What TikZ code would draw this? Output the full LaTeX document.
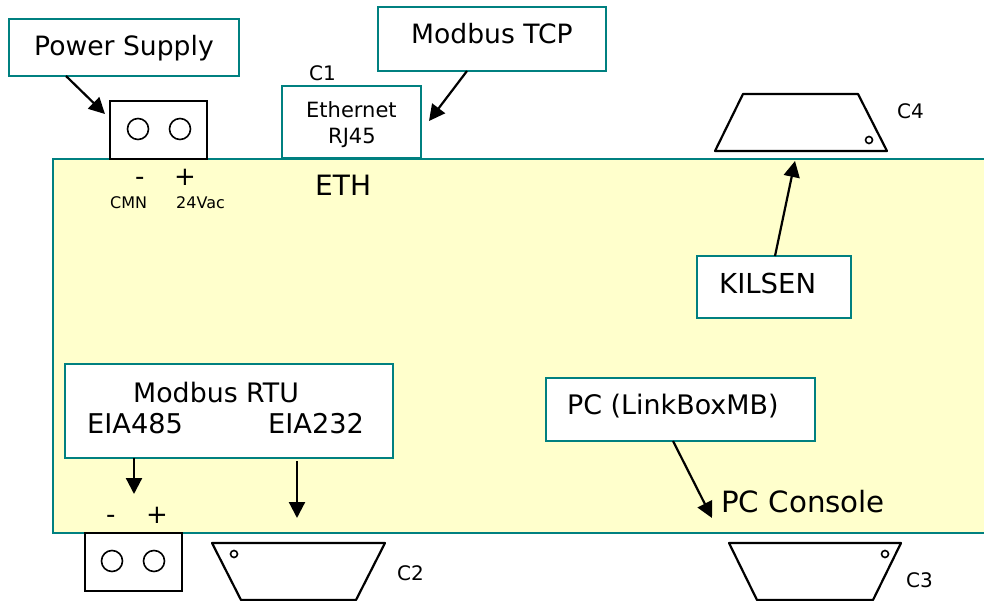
\documentclass[tikz,border=0pt]{standalone}
\usepackage{fontspec}
\usepackage{xcolor}
\usepackage{tikz}
\usetikzlibrary{arrows.meta}
\setmainfont{DejaVu Sans}
\definecolor{edgeteal}{RGB}{0,128,128}
\definecolor{bodyyellow}{RGB}{255,255,204}
\tikzset{
  tealbox/.style={draw=edgeteal,line width=2.4pt,fill=white,inner sep=0,outer sep=0,anchor=north west},
  blackbox/.style={draw=black,line width=2.2pt,fill=white,inner sep=0,outer sep=0,anchor=north west},
  pin/.style={circle,draw=black,line width=1.6pt,fill=white,inner sep=0,outer sep=0,minimum size=21pt},
  hole/.style={circle,draw=black,line width=1.6pt,fill=white,inner sep=0,outer sep=0,minimum size=7pt},
  plug/.style={draw=black,line width=2.2pt,fill=white,line join=round},
  link/.style={line width=2.2pt,-{Triangle[length=16pt,width=16pt]}},
  lbl/.style={anchor=base west,inner sep=0,font=\fontsize{#1}{#1}\selectfont},
}
\begin{document}
\begin{tikzpicture}[x=1pt,y=-1pt]
\useasboundingbox (0,0) rectangle (984,601);
\draw[draw=edgeteal,line width=2.4pt,fill=bodyyellow] (53,159) rectangle (1000,533);
% boxes
\node[tealbox,minimum width=230pt,minimum height=57pt] (psu) at (9,19) {};
\node[tealbox,minimum width=228pt,minimum height=64pt] (tcp) at (378,7) {};
\node[tealbox,minimum width=139pt,minimum height=72pt] (eth) at (282,86) {};
\node[tealbox,minimum width=154pt,minimum height=62pt] (kilsen) at (697,256) {};
\node[tealbox,minimum width=328pt,minimum height=94pt] (rtu) at (65,364) {};
\node[tealbox,minimum width=269pt,minimum height=63pt] (pc) at (546,378) {};
% terminals
\node[blackbox,minimum width=97pt,minimum height=58pt] (termtop) at (110,101) {};
\node[pin] (pintopa) at (138,129) {};
\node[pin] (pintopb) at (180,129) {};
\node[blackbox,minimum width=97pt,minimum height=58pt] (termbot) at (85,533) {};
\node[pin] (pinbota) at (112,561) {};
\node[pin] (pinbotb) at (154,561) {};
% connectors
\draw[plug] (715,151)--(743,94)--(858,94)--(887,151)--cycle;
\draw[plug] (212,543)--(385,543)--(356,600)--(241,600)--cycle;
\draw[plug] (729,543)--(901,543)--(873,600)--(757,600)--cycle;
\node[hole] (holeca) at (869,140) {};
\node[hole] (holecb) at (234,554) {};
\node[hole] (holecc) at (885,554) {};
% arrow ends
\coordinate (psuend) at (105,114);
\coordinate (tcpend) at (429,121);
\coordinate (kilend) at (795,161);
\coordinate (eiaend) at (134,494);
\coordinate (rsend) at (297,518);
\coordinate (pcend) at (712,518);
\draw[link] ([xshift=-58pt]psu.south) -- (psuend);
\draw[link] ([xshift=-25pt]tcp.south) -- (tcpend);
\draw[link] ([xshift=1pt]kilsen.north) -- (kilend);
\draw[link] ([xshift=-95pt]rtu.south) -- (eiaend);
\draw[link] ([xshift=68pt,yshift=-3pt]rtu.south) -- (rsend);
\draw[link] ([xshift=-7.5pt]pc.south) -- (pcend);
% texts
\node[lbl=26.6] (tpsu) at (34,56) {Power Supply};
\node[lbl=26.6] (ttcp) at (411,44) {Modbus TCP};
\node[lbl=21] (teth) at (306,118) {Ethernet};
\node[lbl=21] (trj) at (328,144) {RJ45};
\node[lbl=20] (tca) at (309,81) {C1};
\node[lbl=26] (tminus) at (135,186) {-};
\node[lbl=26] (tplus) at (174,186) {+};
\node[lbl=16] (tcmn) at (110,209) {CMN};
\node[lbl=16] (tvac) at (176,209) {24Vac};
\node[lbl=28] (tethb) at (315,196) {ETH};
\node[lbl=20] (tcd) at (897,119) {C4};
\node[lbl=27.5] (tkil) at (719,294) {KILSEN};
\node[lbl=26.8] (trtu) at (133,402) {Modbus RTU};
\node[lbl=27.2] (teia) at (87,433) {EIA485};
\node[lbl=27.2] (trs) at (268,433) {EIA232};
\node[lbl=26] (tminusb) at (106,523) {-};
\node[lbl=26] (tplusb) at (146,523) {+};
\node[lbl=20] (tcb) at (397,580) {C2};
\node[lbl=26.9] (tpc) at (567,414) {PC (LinkBoxMB)};
\node[lbl=29.3] (tcons) at (721,512) {PC Console};
\node[lbl=20] (tcc) at (906,587) {C3};
\end{tikzpicture}
\end{document}
